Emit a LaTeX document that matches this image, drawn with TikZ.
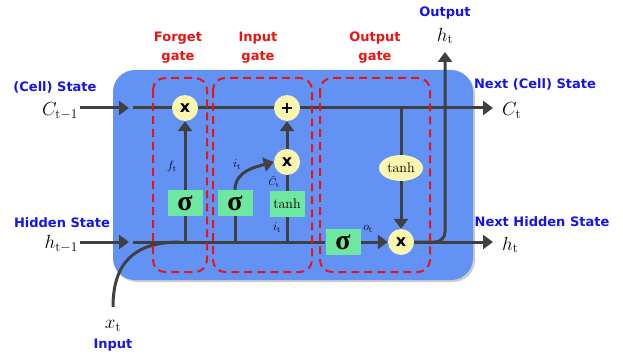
\RequirePackage{fix-cm}
\documentclass[tikz,border=0pt]{standalone}
\usepackage{fontspec}
\usetikzlibrary{arrows.meta,shapes.geometric}
\newfontfamily\lblfont{DejaVu Sans}
\newfontfamily\grkfont{Liberation Serif}
\definecolor{cellblue}{RGB}{99,146,245}
\definecolor{opfill}{RGB}{250,245,175}
\definecolor{gfill}{RGB}{110,232,160}
\definecolor{wire}{RGB}{64,64,64}
\definecolor{gred}{RGB}{235,20,20}
\definecolor{tblue}{RGB}{20,20,235}
\newcommand\gsig{{\grkfont\bfseries\fontsize{28}{28}\selectfont σ}}
\pgfdeclarelayer{bg}\pgfdeclarelayer{wires}\pgfsetlayers{bg,wires,main}
\begin{document}
\begin{tikzpicture}[x=1pt,y=-1pt,
  wireln/.style={line width=3pt, draw=wire},
  arr/.style={wireln, -{Triangle[length=10pt,width=14pt]}},
  op/.style={circle, fill=opfill, minimum size=26pt, inner sep=0pt, font=\lblfont\bfseries\fontsize{16}{16}\selectfont},
  gbox/.style={rectangle, fill=gfill, minimum width=35pt, minimum height=26pt, inner sep=0pt},
  gatebox/.style={draw=gred, line width=2pt, dash pattern=on 8pt off 5pt, rounded corners=12pt},
  blab/.style={text=tblue, font=\lblfont\bfseries\fontsize{13}{15}\selectfont},
  rlab/.style={text=gred, font=\lblfont\bfseries\fontsize{13}{19}\selectfont, align=center},
  mlab/.style={font=\fontsize{19}{22}\selectfont, inner sep=0pt},
  slab/.style={font=\fontsize{12}{13}\selectfont, inner sep=0pt}]
\useasboundingbox (0,0) rectangle (623,358);
\begin{pgfonlayer}{bg}
\fill[gray!40, rounded corners=22pt] (115,72) rectangle (475,282);
\fill[cellblue, rounded corners=22pt] (113,70) rectangle (473,280);
\end{pgfonlayer}
% operators
\node[op] (fx) at (185,108) {x};
\node[op] (pl) at (287,108) {+};
\node[op] (ix) at (287,162) {x};
\node[op] (ox) at (401,242) {x};
\node[gbox] (fs) at (185,203) {\gsig};
\node[gbox] (is) at (235,203) {\gsig};
\node[gbox, font=\fontsize{14}{14}\selectfont] (tb) at (287,204) {tanh};
\node[gbox] (os) at (343,242) {\gsig};
\node[ellipse, fill=opfill, minimum width=44pt, minimum height=26pt, inner sep=0pt, font=\fontsize{14}{14}\selectfont] (te) at (401,168) {tanh};
% coordinates
\coordinate (ca) at (80,108); \coordinate (cb) at (129,108);
\coordinate (cs) at (133,108); \coordinate (ce) at (493,108);
\coordinate (ha) at (80,242); \coordinate (hb) at (129,242);
\coordinate (hs) at (133,242); \coordinate (he) at (493,242);
\coordinate (ot) at (445,52); \coordinate (xi) at (113,307);
\coordinate (xj) at (180,242); \coordinate (tj) at (401,108);
\begin{pgfonlayer}{wires}
\draw[arr] (ca) -- (cb);
\draw[arr] (cs) -- (ce);
\draw[arr] (ha) -- (hb);
\draw[wireln] (hs) -- (os.west);
\draw[arr] (os.east) -- (ox.west);
\draw[arr] (ox.east) -- (he);
\draw[arr, rounded corners=10pt] (ox.east) -| (ot);
\draw[wireln] (xi) .. controls (113,262) and (135,242) .. (xj);
\draw[wireln] (fs.south) -- (fs.south |- hs);
\draw[arr] (fs.north) -- (fx.south);
\draw[wireln] (is.south) -- (is.south |- hs);
\draw[arr] (is.north) to[out=90,in=195] (ix.west);
\draw[wireln] (tb.south) -- (tb.south |- hs);
\draw[wireln] (tb.north) -- (ix.south);
\draw[arr] (ix.north) -- (pl.south);
\draw[wireln] (tj) -- (te.north);
\draw[arr] (te.south) -- (ox.north);
\end{pgfonlayer}
% gates
\draw[gatebox] (153,78) rectangle (207,272);
\draw[gatebox] (213,78) rectangle (312,272);
\draw[gatebox] (320,78) rectangle (430,272);
% labels
\node[blab] (lcs) at (55,87) {(Cell) State};
\node[mlab, anchor=east] (lc1) at (78,111) {$C_{\mathrm{t}-1}$};
\node[blab] (lhs) at (62,223) {Hidden State};
\node[mlab, anchor=east] (lh1) at (78,244) {$h_{\mathrm{t}-1}$};
\node[mlab] (lxt) at (113,326) {$x_{\mathrm{t}}$};
\node[blab] (lin) at (113,345) {Input};
\node[blab] (lout) at (445,13) {Output};
\node[mlab] (lht) at (445,36) {$h_{\mathrm{t}}$};
\node[blab] (lncs) at (535,84) {Next (Cell) State};
\node[mlab, anchor=west] (lct) at (502,111) {$C_{\mathrm{t}}$};
\node[blab] (lnhs) at (542,222) {Next Hidden State};
\node[mlab, anchor=west] (lht2) at (502,245) {$h_{\mathrm{t}}$};
\node[rlab] (gf) at (178,48) {Forget\\gate};
\node[rlab] (gi) at (258,48) {Input\\gate};
\node[rlab] (go) at (375,48) {Output\\gate};
\node[slab] (lft) at (172,167) {$f_{\mathrm{t}}$};
\node[slab] (lit) at (237,165) {$i_{\mathrm{t}}$};
\node[slab, font=\fontsize{10}{11}\selectfont] (lct2) at (274,182) {$\tilde{C}_{\mathrm{t}}$};
\node[slab] (lit2) at (277,228) {$i_{\mathrm{t}}$};
\node[slab] (lot) at (368,229) {$o_{\mathrm{t}}$};
\end{tikzpicture}
\end{document}
